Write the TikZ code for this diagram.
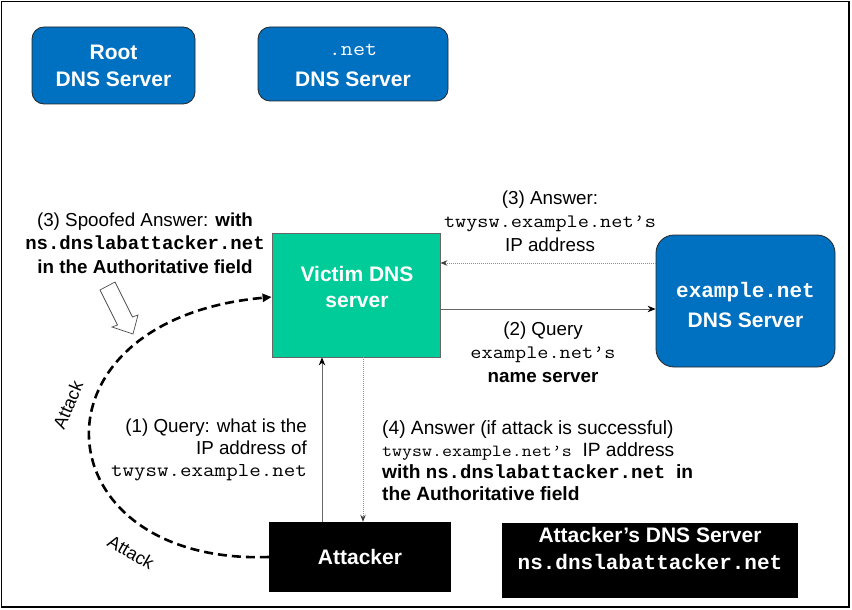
\documentclass[tikz,border=0pt]{standalone}
\usepackage{fontspec}
\setmainfont{Liberation Sans}
\setmonofont{Liberation Mono}
\newfontfamily\thinmono[FakeStretch=1.14]{Latin Modern Mono}
\usetikzlibrary{arrows.meta}
\definecolor{dnsblue}{RGB}{0,112,192}
\definecolor{victimgreen}{RGB}{0,204,153}
\begin{document}
\begin{tikzpicture}[x=1pt,y=-1pt,
  bluebox/.style={draw=black!85, fill=dnsblue, rounded corners=12pt, line width=0.8pt, inner sep=0pt},
  whitetext/.style={text=white, align=center, inner sep=0pt, font=\fontsize{21}{27}\selectfont\bfseries},
  blackbox/.style={fill=black, text=white, align=center, inner sep=0pt,
    font=\fontsize{21}{27}\selectfont\bfseries},
  note/.style={font=\fontsize{18.8}{23.5}\selectfont, align=center, inner sep=0pt},
  thinarrow/.style={draw=black!60, line width=0.9pt, -{Stealth[length=8pt,width=6.5pt,black]}},
  dotarrow/.style={draw=black!45, line width=0.9pt, dash pattern=on 1pt off 1pt,
    -{Stealth[length=7pt,width=5.5pt,black!75]}},
  attackline/.style={line width=2.6pt, dash pattern=on 9pt off 5pt,
    -{Triangle[length=9pt,width=8pt]}},
  attacklabel/.style={font=\fontsize{18}{20}\selectfont, inner sep=0pt}
]
\useasboundingbox (0,0) rectangle (852,610);
\draw[line width=1.2pt] (1.5,1.5) rectangle (849,607);

% top servers
\node[bluebox, minimum width=163pt, minimum height=77pt] (root) at (113.5,65.5) {};
\node[whitetext] (roottxt) at (113.5,66) {Root\\DNS Server};
\node[bluebox, minimum width=190pt, minimum height=74pt] (dotnet) at (353,64) {};
\node[whitetext, font=\fontsize{21}{31}\selectfont\bfseries] (dotnettxt) at (353,65)
  {{\mdseries\thinmono\fontsize{20.5}{31}\selectfont .net}\\DNS Server};

% victim
\node[draw=black!60, fill=victimgreen, line width=0.8pt, minimum width=168pt, minimum height=124pt, inner sep=0pt]
  (victim) at (356,295) {};
\node[whitetext, font=\fontsize{21}{26}\selectfont\bfseries] (victimtxt) at (357,287) {Victim DNS\\server};

% example.net
\node[bluebox, rounded corners=18pt, minimum width=179pt, minimum height=132pt] (exnet) at (745.5,301) {};
\node[whitetext, font=\fontsize{21}{30}\selectfont\bfseries] (exnettxt) at (745.5,304.5)
  {{\ttfamily\fontsize{21}{30}\selectfont example.net}\\DNS Server};

% attacker
\node[blackbox, minimum width=182pt, minimum height=70pt] (attacker) at (360,557) {Attacker};
\node[blackbox, minimum width=296pt, minimum height=75pt] (atkdns) at (650,560.5) {};
\node[whitetext] (atkdnstxt) at (650,548) {Attacker’s DNS Server\\{\ttfamily ns.dnslabattacker.net}};

% connectors
\draw[dotarrow] ([yshift=38pt]exnet.west) -- ([yshift=32pt]victim.east);
\draw[thinarrow] ([yshift=-14pt]victim.east) -- ([yshift=-8pt]exnet.west);
\draw[thinarrow] ([xshift=-38pt]attacker.north) -- ([xshift=-34pt]victim.south);
\draw[dotarrow] ([xshift=7pt]victim.south) -- ([xshift=3pt]attacker.north);
\draw[attackline] (attacker.west) .. controls (40,565) and (20,320) .. ([yshift=-2pt]victim.west);

% hollow arrow
\draw[fill=white, draw=black!70, line width=0.7pt]
  (100,290) -- (115,282) -- (132.5,317) -- (138,315) -- (133,334) -- (112,327) -- (117.5,325) -- cycle;

% labels
\node[note] (ans3) at (550,221)
  {(3) Answer:\\{\thinmono\fontsize{19}{23.5}\selectfont twysw.example.net’s}\\IP address};
\node[note] (q2) at (543,352)
  {(2) Query\\{\thinmono\fontsize{19}{23.5}\selectfont example.net’s}\\\textbf{name server}};
\node[note] (spoof) at (145,243)
  {(3) Spoofed Answer: \textbf{with}\\{\ttfamily\bfseries\fontsize{19}{23.5}\selectfont ns.dnslabattacker.net}\\\textbf{in the Authoritative field}};
\node[note, align=right, anchor=east, font=\fontsize{18.8}{22}\selectfont] (q1) at (307,450)
  {(1) Query: what is the\\IP address of\\{\thinmono\fontsize{19.6}{22}\selectfont twysw.example.net}};
\node[note, align=left, anchor=west, font=\fontsize{19.2}{22}\selectfont] (ans4) at (382,461)
  {(4) Answer (if attack is successful)\\
   {\thinmono\fontsize{17}{22}\selectfont twysw.example.net’s}\ \ IP address\\
   \textbf{with} {\ttfamily\bfseries\fontsize{19}{22}\selectfont ns.dnslabattacker.net}\ \ \textbf{in}\\
   \textbf{the Authoritative field}};

\node[attacklabel, rotate=67] (attack1) at (68,405) {Attack};
\node[attacklabel, rotate=-30] (attack2) at (131,552) {Attack};
\end{tikzpicture}
\end{document}
